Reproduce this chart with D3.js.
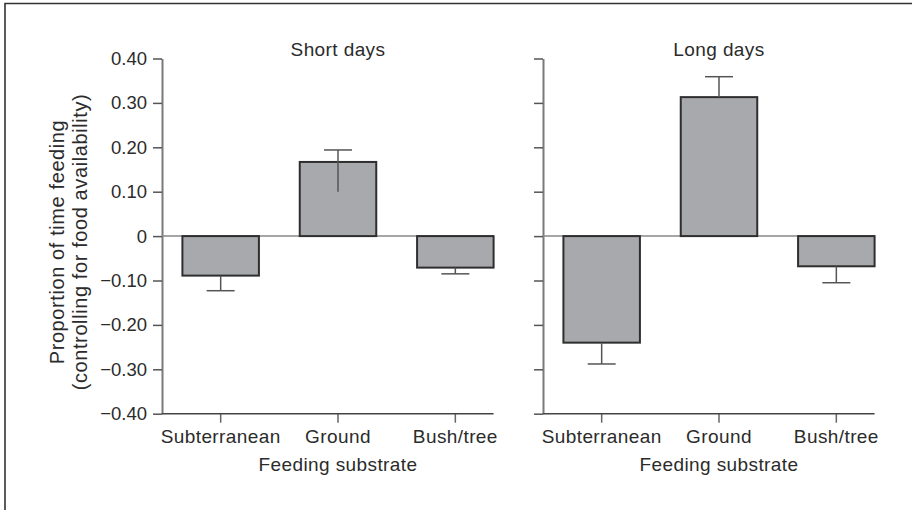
<!DOCTYPE html>
<html>
<head>
<meta charset="utf-8">
<script src="https://cdn.jsdelivr.net/npm/d3@7"></script>
<style>
  body { margin: 0; background: #fff; }
  text { font-family: "Liberation Sans", Arial, sans-serif; fill: #2b2b2b; }
</style>
</head>
<body>
<div class="chart-container"></div>
<script>
// data
const categories = ["Subterranean", "Ground", "Bush/tree"];
const panelTitles = ["Short days", "Long days"];
const shortDays = [-0.089, 0.167, -0.071];
const shortErrBase = [-0.089, 0.1, -0.071];
const shortErrCap = [-0.123, 0.194, -0.085];
const longDays = [-0.24, 0.313, -0.068];
const longErrBase = [-0.24, 0.313, -0.068];
const longErrCap = [-0.288, 0.359, -0.105];
const yTicks = [-0.4, -0.3, -0.2, -0.1, 0, 0.1, 0.2, 0.3, 0.4];
const yTitle = ["Proportion of time feeding", "(controlling for food availability)"];
const xTitle = "Feeding substrate";

chart();

function chart() {
  // define canvas
  const w = 912;
  const h = 510;

  const svg = d3
    .select(".chart-container")
    .append("svg")
    .attr("width", w)
    .attr("height", h);

  // outer frame, cut off at right and bottom
  svg
    .append("path")
    .attr("d", "M5," + h + "V3.5H" + w)
    .attr("fill", "none")
    .attr("stroke", "#333")
    .attr("stroke-width", 1.6);

  const top = 58.5;
  const bottom = 413.7;
  const span = 352;

  const yScale = d3.scaleLinear().domain([-0.4, 0.4]).range([bottom, top]);

  const panels = [
    { x0: 162, title: panelTitles[0], vals: shortDays, base: shortErrBase, cap: shortErrCap, labels: true },
    { x0: 543, title: panelTitles[1], vals: longDays, base: longErrBase, cap: longErrCap, labels: false },
  ];

  panels.forEach((p) => {
    const g = svg.append("g");

    const xScale = d3
      .scaleBand()
      .domain(categories)
      .range([p.x0, p.x0 + span])
      .paddingInner(0.348)
      .paddingOuter(0.174);
    const bw = xScale.bandwidth();
    const mid = (d) => xScale(d) + bw / 2;
    const xEnd = xScale(categories[categories.length - 1]) + bw;

    // y axis
    const yAxis = d3
      .axisLeft(yScale)
      .tickValues(yTicks)
      .tickSize(9)
      .tickSizeOuter(0)
      .tickPadding(6)
      .tickFormat((d) => (p.labels ? (d === 0 ? "0" : d3.format(".2f")(d)) : ""));

    const ya = g
      .append("g")
      .attr("transform", "translate(" + p.x0 + ",0)")
      .call(yAxis);
    ya.select(".domain").attr("stroke", "#7a7a7a").attr("stroke-width", 2);
    ya.selectAll(".tick line").attr("stroke", "#555").attr("stroke-width", 1.5);
    ya.selectAll("text").attr("font-size", 18.5).attr("fill", "#2b2b2b");

    // x axis
    const xAxis = d3
      .axisBottom(xScale)
      .tickSize(9)
      .tickSizeOuter(0)
      .tickPadding(7);
    const xa = g
      .append("g")
      .attr("transform", "translate(0," + bottom + ")")
      .call(xAxis);
    xa.select(".domain").remove();
    xa.append("line")
      .attr("x1", p.x0)
      .attr("x2", xEnd)
      .attr("stroke", "#444")
      .attr("stroke-width", 1.6);
    xa.selectAll(".tick line").attr("stroke", "#666").attr("stroke-width", 1.5);
    xa.selectAll("text")
      .attr("font-size", 19)
      .attr("letter-spacing", 0.4)
      .attr("fill", "#2b2b2b");

    // zero line
    g.append("line")
      .attr("x1", p.x0)
      .attr("x2", xEnd)
      .attr("y1", yScale(0))
      .attr("y2", yScale(0))
      .attr("stroke", "#888")
      .attr("stroke-width", 1.5);

    // bars
    g.selectAll("rect.bar")
      .data(categories)
      .enter()
      .append("rect")
      .attr("class", "bar")
      .attr("x", (d) => xScale(d))
      .attr("width", bw)
      .attr("y", (d, i) => yScale(Math.max(0, p.vals[i])))
      .attr("height", (d, i) => Math.abs(yScale(p.vals[i]) - yScale(0)))
      .attr("fill", "#a8a9ac")
      .attr("stroke", "#2e2e2e")
      .attr("stroke-width", 2);

    // error bars, drawn on top so the short-day ground line shows inside the bar
    const eb = g.append("g");
    categories.forEach((c, i) => {
      eb.append("line")
        .attr("x1", mid(c))
        .attr("x2", mid(c))
        .attr("y1", yScale(p.base[i]))
        .attr("y2", yScale(p.cap[i]))
        .attr("stroke", "#555")
        .attr("stroke-width", 1.5);
      eb.append("line")
        .attr("x1", mid(c) - 14)
        .attr("x2", mid(c) + 14)
        .attr("y1", yScale(p.cap[i]))
        .attr("y2", yScale(p.cap[i]))
        .attr("stroke", "#555")
        .attr("stroke-width", 1.5);
    });

    // panel title
    g.append("text")
      .attr("x", mid(categories[1]))
      .attr("y", 56)
      .attr("text-anchor", "middle")
      .attr("font-size", 19)
      .attr("letter-spacing", 0.4)
      .text(p.title);

    // x axis title
    g.append("text")
      .attr("x", mid(categories[1]))
      .attr("y", 470.5)
      .attr("text-anchor", "middle")
      .attr("font-size", 19)
      .attr("letter-spacing", 0.4)
      .text(xTitle);
  });

  // y axis title, two lines
  yTitle.forEach((t, i) => {
    svg
      .append("text")
      .attr("transform", "translate(" + (63.5 + i * 23) + ",242) rotate(-90)")
      .attr("text-anchor", "middle")
      .attr("font-size", 20)
      .attr("letter-spacing", 0.6)
      .text(t);
  });
}
</script>
</body>
</html>
